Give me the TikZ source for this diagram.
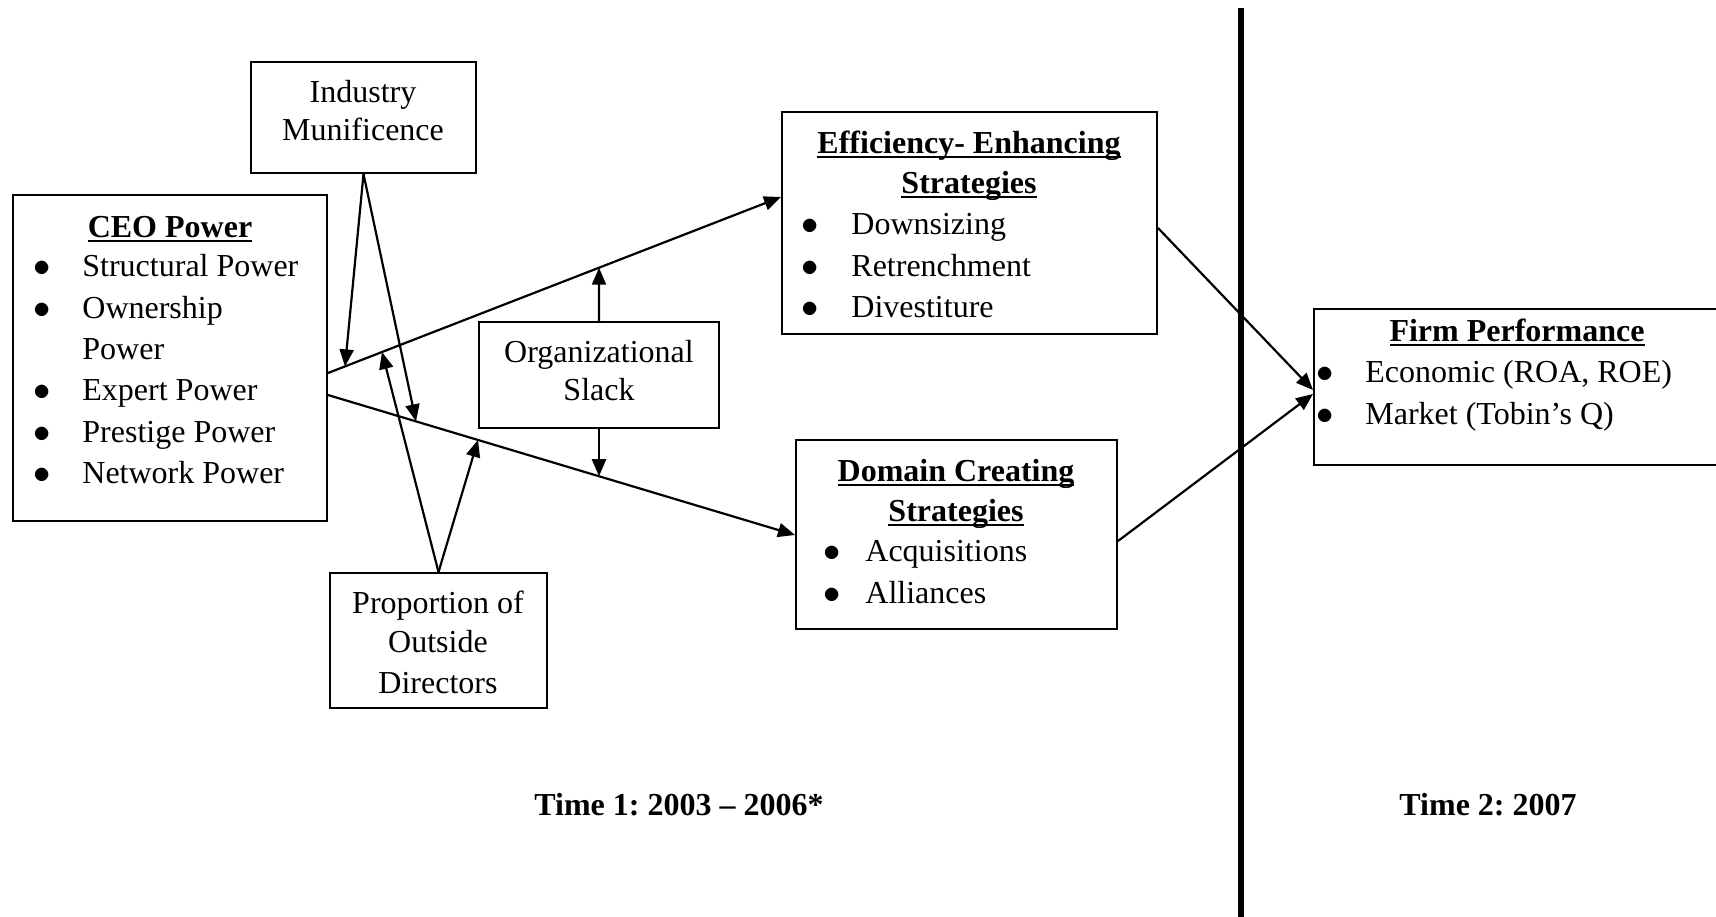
\documentclass[tikz,border=0pt]{standalone}
\usepackage{fontspec}
\setmainfont{Liberation Serif}
\usetikzlibrary{arrows.meta,calc,fit}
\frenchspacing
\newcommand\myul[1]{\setbox0\hbox{#1}\rlap{\rule[-2.6pt]{\wd0}{1.1pt}}\box0}
\newcommand\bul{$\bullet$}
\begin{document}
\begin{tikzpicture}[x=0.5pt,y=-0.5pt,
  box/.style={draw, line width=1pt, inner sep=0pt},
  txt/.style={inner sep=0pt, anchor=base, font=\fontsize{16}{19}\selectfont},
  ltxt/.style={txt, anchor=base west},
  btxt/.style={txt, font=\fontsize{16}{19}\selectfont\bfseries},
  arr/.style={line width=1.1pt, -{Triangle[length=8.5pt,width=7pt]}},
  ln/.style={line width=1pt}]
\useasboundingbox (0,0) rectangle (1716,916);
\clip (0,0) rectangle (1716,916);

% boxes
\node[box, fit={(251,62) (476,173)}] (ind) {};
\node[box, fit={(13,195) (327,521)}] (ceo) {};
\node[box, fit={(782,112) (1157,334)}] (eff) {};
\node[box, fit={(479,322) (719,428)}] (slack) {};
\node[box, fit={(796,440) (1117,629)}] (dom) {};
\node[box, fit={(330,573) (547,708)}] (prop) {};
\node[box, fit={(1314,309) (1760,465)}] (firm) {};

% Industry text
\node[txt] (indt1) at (363,102) {Industry};
\node[txt] (indt2) at (363,140) {Munificence};

% CEO text
\node[btxt] (ceot) at (170,237) {\myul{CEO Power}};
\node[txt] (cb1) at (42,276) {\bul};
\node[ltxt] (c1) at (82,276) {Structural Power};
\node[txt] (cb2) at (42,318) {\bul};
\node[ltxt] (c2) at (82,318) {Ownership};
\node[ltxt] (c2b) at (82,359) {Power};
\node[txt] (cb3) at (42,400) {\bul};
\node[ltxt] (c3) at (82,400) {Expert Power};
\node[txt] (cb4) at (42,442) {\bul};
\node[ltxt] (c4) at (82,442) {Prestige Power};
\node[txt] (cb5) at (42,483) {\bul};
\node[ltxt] (c5) at (82,483) {Network Power};

% Efficiency text
\node[btxt] (efft1) at (969,153) {\myul{Efficiency- Enhancing}};
\node[btxt] (efft2) at (969,193) {\myul{Strategies}};
\node[txt] (eb1) at (810,234) {\bul};
\node[ltxt] (e1) at (851,234) {Downsizing};
\node[txt] (eb2) at (810,276) {\bul};
\node[ltxt] (e2) at (851,276) {Retrenchment};
\node[txt] (eb3) at (810,317) {\bul};
\node[ltxt] (e3) at (851,317) {Divestiture};

% Slack text
\node[txt] (slt1) at (599,362) {Organizational};
\node[txt] (slt2) at (599,400) {Slack};

% Domain text
\node[btxt] (domt1) at (956,481) {\myul{Domain Creating}};
\node[btxt] (domt2) at (956,521) {\myul{Strategies}};
\node[txt] (db1) at (832,561) {\bul};
\node[ltxt] (d1) at (865,561) {Acquisitions};
\node[txt] (db2) at (832,603) {\bul};
\node[ltxt] (d2) at (865,603) {Alliances};

% Proportion text
\node[txt] (pt1) at (438,613) {Proportion of};
\node[txt] (pt2) at (438,652) {Outside};
\node[txt] (pt3) at (438,693) {Directors};

% Firm text
\node[btxt] (firmt) at (1517,341) {\myul{Firm Performance}};
\node[txt] (fb1) at (1325,382) {\bul};
\node[ltxt] (f1) at (1365,382) {Economic (ROA, ROE)};
\node[txt] (fb2) at (1325,424) {\bul};
\node[ltxt] (f2) at (1365,424) {Market (Tobin's Q)};

% time labels
\node[btxt] (time1) at (679,815) {Time 1: 2003 – 2006*};
\node[btxt] (time2) at (1488,815) {Time 2: 2007};

% vertical divider
\coordinate (vtop) at (1241,8);
\coordinate (vbot) at (1241,920);
\draw[line width=2.6pt] (vtop) -- (vbot);

% main connectors
\coordinate (u0) at (ceo.east |- 0,373);
\coordinate (u1) at (eff.west |- 0,197);
\coordinate (l0) at (ceo.east |- 0,395);
\coordinate (l1) at (dom.west |- 0,535);
\draw[arr] (u0) -- (u1);
\draw[arr] (l0) -- (l1);

% tips on the lines
\coordinate (ind1) at (intersection of u0--u1 and 345,0--345,900);
\coordinate (ind2) at (intersection of l0--l1 and 416,0--416,900);
\coordinate (pr1) at (intersection of u0--u1 and 382,0--382,900);
\coordinate (pr2) at (intersection of l0--l1 and 478,0--478,900);
\coordinate (sl1) at (intersection of u0--u1 and 599,0--599,900);
\coordinate (sl2) at (intersection of l0--l1 and 599,0--599,900);

\draw[arr] (ind.south) -- (ind1);
\draw[arr] (ind.south) -- (ind2);
\draw[arr] (prop.north) -- (pr1);
\draw[arr] (prop.north) -- (pr2);
\draw[arr] (slack.north) -- (sl1);
\draw[arr] (slack.south) -- (sl2);

% to firm performance
\coordinate (e0) at (eff.east |- 0,228);
\coordinate (d0) at (dom.east |- 0,541);
\coordinate (f0) at (firm.west |- 0,390);
\coordinate (f1) at (firm.west |- 0,394);
\draw[arr] (e0) -- (f0);
\draw[arr] (d0) -- (f1);
\end{tikzpicture}
\end{document}
